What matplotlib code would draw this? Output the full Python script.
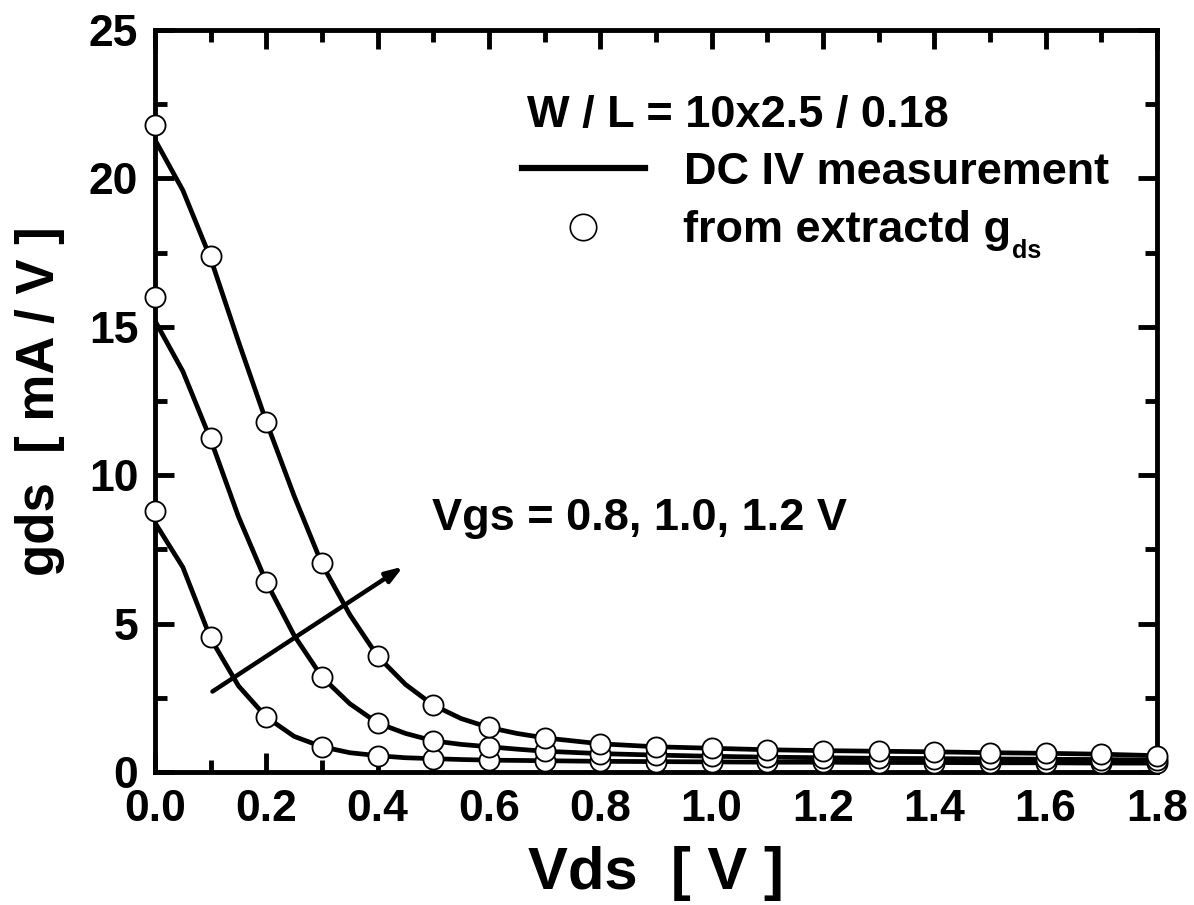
import numpy as np
import matplotlib
matplotlib.use('Agg')
import matplotlib.pyplot as plt
from matplotlib.ticker import MultipleLocator

plt.rcParams['font.family'] = ['Liberation Sans', 'DejaVu Sans']
plt.rcParams['font.weight'] = 'bold'

# measured gds (DC IV), fine step
vds_line = [0.0, 0.05, 0.1, 0.15, 0.2, 0.25, 0.3, 0.35, 0.4, 0.45, 0.5, 0.55,
            0.6, 0.65, 0.7, 0.8, 0.9, 1.0, 1.1, 1.2, 1.3, 1.4, 1.5, 1.6, 1.7, 1.8]
gds_line_08 = [8.4, 6.9, 4.5, 2.9, 1.85, 1.2, 0.85, 0.65, 0.55, 0.48, 0.45, 0.42,
               0.4, 0.39, 0.38, 0.36, 0.35, 0.34, 0.33, 0.33, 0.32, 0.32, 0.31, 0.31, 0.3, 0.3]
gds_line_10 = [15.2, 13.5, 11.2, 8.6, 6.4, 4.6, 3.2, 2.3, 1.65, 1.3, 1.05, 0.93,
               0.85, 0.77, 0.7, 0.62, 0.57, 0.53, 0.5, 0.48, 0.46, 0.45, 0.44, 0.43, 0.42, 0.4]
gds_line_12 = [21.3, 19.6, 17.3, 14.5, 11.8, 9.3, 7.0, 5.3, 3.9, 2.95, 2.25, 1.8,
               1.5, 1.3, 1.15, 0.95, 0.85, 0.8, 0.75, 0.72, 0.7, 0.68, 0.65, 0.63, 0.6, 0.55]

# extracted gds, 0.1 V step
vds_pts = [0.0, 0.1, 0.2, 0.3, 0.4, 0.5, 0.6, 0.7, 0.8, 0.9, 1.0,
           1.1, 1.2, 1.3, 1.4, 1.5, 1.6, 1.7, 1.8]
gds_pts_08 = [8.8, 4.55, 1.85, 0.85, 0.55, 0.45, 0.4, 0.38, 0.36, 0.35, 0.34,
              0.33, 0.33, 0.32, 0.32, 0.31, 0.31, 0.3, 0.3]
gds_pts_10 = [16.0, 11.25, 6.4, 3.2, 1.65, 1.05, 0.85, 0.7, 0.62, 0.57, 0.53,
              0.5, 0.48, 0.46, 0.45, 0.44, 0.43, 0.42, 0.4]
gds_pts_12 = [21.8, 17.4, 11.8, 7.05, 3.9, 2.25, 1.5, 1.15, 0.95, 0.85, 0.8,
              0.75, 0.72, 0.7, 0.68, 0.65, 0.63, 0.6, 0.55]

fig = plt.figure(figsize=(11.94, 9.05), dpi=100)
ax = fig.add_axes([155/1194, 1-772/905, 1002/1194, 742/905])

for yl, yp in [(gds_line_08, gds_pts_08), (gds_line_10, gds_pts_10), (gds_line_12, gds_pts_12)]:
    ax.plot(vds_line, yl, color='black', lw=3.4, zorder=2)
    ax.plot(vds_pts, yp, 'o', ms=14.5, mfc='white', mec='black', mew=1.3, zorder=3, clip_on=False)

ax.set_xlim(0, 1.8)
ax.set_ylim(0, 25)
ax.xaxis.set_major_locator(MultipleLocator(0.2))
ax.xaxis.set_minor_locator(MultipleLocator(0.1))
ax.yaxis.set_major_locator(MultipleLocator(5))
ax.yaxis.set_minor_locator(MultipleLocator(2.5))
ax.xaxis.set_major_formatter(plt.FormatStrFormatter('%.1f'))
ax.tick_params(which='both', direction='in', top=True, right=True, width=3.5)
ax.tick_params(which='major', length=14, labelsize=32, pad=12)
ax.tick_params(which='minor', length=8.5)
for s in ax.spines.values():
    s.set_linewidth(3.5)

ax.set_xlabel('Vds  [ V ]', fontsize=43, fontweight='bold', labelpad=12)
ax.set_ylabel('gds  [ mA / V ]', fontsize=38, fontweight='bold', labelpad=17)

# arrow for increasing Vgs
ax.annotate('', xy=(0.45, 6.97), xytext=(0.099, 2.66),
            arrowprops=dict(arrowstyle='-|>,head_length=1.0,head_width=0.35', color='black', lw=3.2))
ax.text(0.2765, 0.326, 'Vgs = 0.8, 1.0, 1.2 V', transform=ax.transAxes,
        fontsize=32.5, fontweight='bold', va='baseline', ha='left')

# legend drawn by hand
ax.text(0.3715, 0.869, 'W / L = 10x2.5 / 0.18', transform=ax.transAxes,
        fontsize=32.5, fontweight='bold', va='baseline', ha='left')
ax.plot([0.3663, 0.489], [0.814, 0.814], transform=ax.transAxes, color='black', lw=4.5)
ax.text(0.528, 0.793, 'DC IV measurement', transform=ax.transAxes,
        fontsize=32.5, fontweight='bold', va='baseline', ha='left')
ax.plot([0.427], [0.7345], 'o', ms=19, mfc='white', mec='black', mew=1.2, transform=ax.transAxes)
t = ax.text(0.527, 0.714, 'from extractd g', transform=ax.transAxes,
            fontsize=32.5, fontweight='bold', va='baseline', ha='left')
ax.annotate('ds', xy=(1, 0), xycoords=t, xytext=(0.5, -5), textcoords='offset points',
            fontsize=18, fontweight='bold', va='baseline', ha='left')

fig.savefig('out.png', dpi=100)
